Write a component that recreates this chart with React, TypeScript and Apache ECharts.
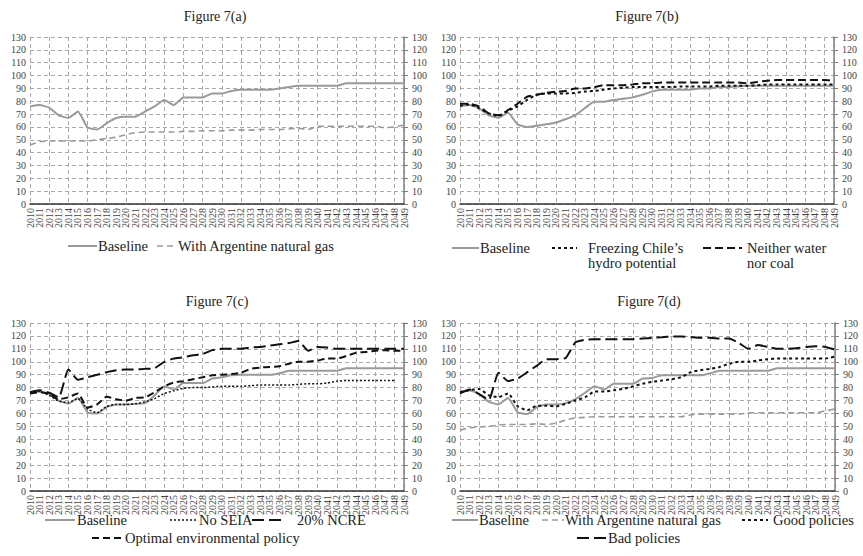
import React, { useEffect, useRef } from "react";
import * as echarts from "echarts";

const years = [
  "2010", "2011", "2012", "2013", "2014", "2015", "2016", "2017", "2018", "2019",
  "2020", "2021", "2022", "2023", "2024", "2025", "2026", "2027", "2028", "2029",
  "2030", "2031", "2032", "2033", "2034", "2035", "2036", "2037", "2038", "2039",
  "2040", "2041", "2042", "2043", "2044", "2045", "2046", "2047", "2048", "2049",
];

// Figure 7(a)
const baselineA = [
  76, 77, 75, 69, 67, 72, 59.5, 58, 63, 67,
  68, 68, 72, 76, 81, 77, 83, 83, 83, 86,
  86, 88, 89, 89, 89, 89, 90, 91, 92, 92,
  92, 92, 92, 94, 94, 94, 94, 94, 94, 94,
];
const gasA = [
  46, 48.5, 49, 49, 49, 49, 49, 50, 51, 52,
  54, 55.5, 56, 56, 56, 56, 56.5, 56.5, 57, 57,
  57, 57.5, 57.5, 57.5, 58, 58, 58, 58.5, 59, 58,
  60.5, 60.5, 60.5, 60.5, 60.5, 60.5, 60.5, 59.5, 60, 61.5,
];

// Figure 7(b)
const baselineB = [
  76, 77, 74.5, 69, 67, 71, 62, 60, 61, 62,
  63.5, 66, 69, 74.5, 79.5, 79.5, 81, 82, 83, 85,
  87.5, 89, 89, 89, 89, 90, 90, 91, 91, 91.5,
  92, 92, 92, 92, 92, 92, 92, 92, 92, 92,
];
const freezingB = [
  76.5, 77.5, 74.5, 70.5, 68.5, 72.5, 76, 81, 85, 86,
  86, 86, 86.5, 87.5, 88, 89, 90, 90.5, 91, 91,
  91, 91, 91, 91.5, 91.5, 91.5, 91.5, 92, 92, 92,
  92, 92.5, 93, 93, 93, 93, 93, 93, 93, 93,
];
const neitherB = [
  78, 78, 76, 70.5, 69, 73, 78, 83.5, 85, 86.5,
  87.5, 88, 90, 90, 91, 92.5, 92.5, 92.5, 93, 94,
  94, 94.5, 94.5, 94.5, 94.5, 94.5, 94.5, 94.5, 94.5, 94.5,
  94, 95, 96, 96.5, 96.5, 96.5, 96.5, 96.5, 96.5, 96,
];

// Figure 7(c)
const baselineC = [
  76, 77, 75, 70, 67.5, 72, 61, 60, 65, 67,
  67, 67.5, 68, 74, 81, 78.5, 83.5, 83.5, 83.5, 87,
  88, 89.5, 90, 90, 90, 90, 91, 93, 93, 93,
  93, 93, 93, 95, 95, 95, 95, 95, 95, 95,
];
const noSeiaC = [
  76, 77, 74, 69.5, 68.5, 71.5, 63.5, 60.5, 65.5, 67,
  67, 67.5, 69, 71.5, 75.5, 77.5, 79.5, 80, 80, 80.5,
  81, 81, 81, 81.5, 82, 82, 82, 82, 82.5, 83,
  83, 83.5, 85, 85.5, 85.5, 85.5, 85.5, 85.5, 85.5, null,
];
const ncreC = [
  76.5, 78, 76, 72.5, 94, 86, 88, 90, 92, 93.5,
  94, 94, 94.5, 95, 100, 102.5, 103.5, 105, 106, 109,
  110, 110, 110, 111, 111.5, 112.5, 113.5, 114.5, 116, 108.5,
  111.5, 111, 110, 110, 110, 110, 110, 110, 110, 110,
];
const optimalC = [
  75.5, 76.5, 75, 71, 72.5, 75.5, 64.5, 67, 73, 71,
  70, 72, 72.5, 76.5, 81, 84, 85, 86.5, 88, 89.5,
  90, 90.5, 91.5, 94.5, 95.5, 96, 96.5, 98.5, 100, 100,
  101, 102.5, 102.5, 104.5, 107, 107.5, 108.5, 109, 108.5, 108.5,
];

// Figure 7(d)
const baselineD = [
  77, 78, 75, 69, 67, 72, 61, 59.5, 65, 67,
  67, 68, 71, 76, 81, 78.5, 83, 83, 83, 87,
  87.5, 89.5, 89.5, 89.5, 89.5, 89.5, 91, 93, 93, 93,
  93, 93, 93, 95, 95, 95, 95, 95, 95, 95,
];
const gasD = [
  47, 49, 49.5, 50, 51, 51.5, 51.5, 51.5, 52, 51.5,
  52.5, 55, 56.5, 57, 57.5, 57.5, 57.5, 57.5, 57.5, 57.5,
  57.5, 57.5, 57.5, 57.5, 59, 59.5, 59.5, 59.5, 59.5, 59.5,
  60.5, 60.5, 60.5, 60.5, 60.5, 60.5, 60.5, 60.5, 62, 63.5,
];
const goodD = [
  76.5, 78, 79, 74, 72.5, 75.5, 65.5, 62.5, 66, 66,
  65.5, 67.5, 70, 72.5, 77, 77, 78, 79, 81, 83,
  84.5, 85.5, 86.5, 88, 92, 93.5, 94.5, 96, 98.5, 100,
  100, 101, 102, 102.5, 102.5, 102.5, 102.5, 102.5, 102.5, 104,
];
const badD = [
  75.5, 78.5, 75, 70.5, 91.5, 85, 87, 92, 97, 102,
  102, 103, 115, 117, 117.5, 117.5, 117.5, 117.5, 117.5, 118,
  118.5, 119, 119.5, 119.5, 119, 118.5, 118.5, 118, 118, 114.5,
  110, 113, 111.5, 110, 110, 110.5, 111.5, 112, 111.5, 109.5,
];

const titles = ["Figure 7(a)", "Figure 7(b)", "Figure 7(c)", "Figure 7(d)"];

const SERIF = "Liberation Serif";
const GRAY = "#9a9a9a";
const BLACK = "#111";

const grids = [
  { left: 30, top: 37, width: 374, height: 167 },
  { left: 460, top: 37, width: 374, height: 167 },
  { left: 30, top: 323, width: 374, height: 168 },
  { left: 460, top: 323, width: 375, height: 168 },
];

type SeriesDef = { name: string; data: (number | null)[]; color: string; width: number; dash: any };

const panels: SeriesDef[][] = [
  [
    { name: "Baseline", data: baselineA, color: GRAY, width: 2, dash: "solid" },
    { name: "With Argentine natural gas", data: gasA, color: GRAY, width: 1.6, dash: [6, 4] },
  ],
  [
    { name: "Baseline", data: baselineB, color: GRAY, width: 2, dash: "solid" },
    { name: "Freezing Chile’s hydro potential", data: freezingB, color: BLACK, width: 2, dash: [3, 3] },
    { name: "Neither water nor coal", data: neitherB, color: BLACK, width: 2, dash: [8, 4] },
  ],
  [
    { name: "Baseline", data: baselineC, color: GRAY, width: 2, dash: "solid" },
    { name: "No SEIA", data: noSeiaC, color: BLACK, width: 1.5, dash: [2, 2] },
    { name: "20% NCRE", data: ncreC, color: BLACK, width: 2, dash: [12, 5] },
    { name: "Optimal environmental policy", data: optimalC, color: BLACK, width: 2, dash: [7, 4] },
  ],
  [
    { name: "Baseline", data: baselineD, color: GRAY, width: 2, dash: "solid" },
    { name: "With Argentine natural gas", data: gasD, color: GRAY, width: 1.6, dash: [6, 4] },
    { name: "Good policies", data: goodD, color: BLACK, width: 2, dash: [3, 3] },
    { name: "Bad policies", data: badD, color: BLACK, width: 2, dash: [12, 5] },
  ],
];

function legLine(x1: number, x2: number, y: number, color: string, width: number, dash: any) {
  return {
    type: "line",
    shape: { x1, y1: y, x2, y2: y },
    style: { stroke: color, lineWidth: width, lineDash: dash === "solid" ? null : dash },
  };
}
function legText(x: number, y: number, text: string) {
  return {
    type: "text",
    x,
    y,
    style: {
      text,
      fontSize: 14.5,
      fontFamily: SERIF,
      fill: "#222",
      textVerticalAlign: "middle",
      lineHeight: 15,
    },
  };
}

export default function App() {
  const ref = useRef<HTMLDivElement>(null);
  useEffect(() => {
    document.body.style.margin = "0";
    if (!ref.current) return;
    const chart = echarts.init(ref.current, null, { renderer: "svg" });

    const xAxis: any[] = [];
    const yAxis: any[] = [];
    const series: any[] = [];
    grids.forEach((g, i) => {
      xAxis.push({
        type: "category",
        gridIndex: i,
        data: years,
        boundaryGap: false,
        axisLine: { lineStyle: { color: "#333", width: 1.5 } },
        axisTick: { show: false },
        axisLabel: { rotate: 90, interval: 0, fontSize: 10, color: "#444", fontFamily: SERIF, margin: 4 },
        splitLine: { show: true, interval: 1, lineStyle: { color: "#a8a8a8", type: [4, 3], width: 1 } },
      });
      yAxis.push({
        type: "value",
        gridIndex: i,
        min: 0,
        max: 130,
        interval: 10,
        axisLine: { show: false },
        axisTick: { show: false },
        axisLabel: { fontSize: 10, color: "#444", fontFamily: SERIF, margin: 4 },
        splitLine: { show: true, lineStyle: { color: "#a8a8a8", type: [4, 3], width: 1 } },
      });
      yAxis.push({
        type: "value",
        gridIndex: i,
        position: "right",
        min: 0,
        max: 130,
        interval: 10,
        axisLine: { show: true, lineStyle: { color: "#808080", width: 1.5 } },
        axisTick: { show: true, length: 4, lineStyle: { color: "#808080", width: 1 } },
        axisLabel: { fontSize: 10, color: "#444", fontFamily: SERIF, margin: 8 },
        splitLine: { show: false },
      });
      panels[i].forEach((s) => {
        series.push({
          type: "line",
          name: s.name,
          xAxisIndex: i,
          yAxisIndex: 2 * i,
          data: s.data,
          showSymbol: false,
          symbol: "none",
          smooth: 0.15,
          connectNulls: false,
          lineStyle: { color: s.color, width: s.width, type: s.dash },
          z: s.color === GRAY ? 2 : 3,
        });
      });
    });

    const titleGraphics = [
      { x: 215, y: 16 },
      { x: 647, y: 16 },
      { x: 217, y: 301 },
      { x: 649, y: 301 },
    ].map((p, i) => ({
      type: "text",
      x: p.x,
      y: p.y,
      style: {
        text: titles[i],
        fontSize: 14,
        fontFamily: SERIF,
        fill: "#222",
        textAlign: "center",
        textVerticalAlign: "middle",
      },
    }));

    const legend = [
      // (a)
      legLine(68, 97, 246, GRAY, 2, "solid"),
      legText(98, 246, "Baseline"),
      legLine(157, 177, 246, GRAY, 1.6, [6, 4]),
      legText(178, 246, "With Argentine natural gas"),
      // (b)
      legLine(452, 479, 248, GRAY, 2, "solid"),
      legText(480, 248, "Baseline"),
      legLine(552, 577, 248, BLACK, 2, [3, 3]),
      legText(588, 255.5, "Freezing Chile’s\nhydro potential"),
      legLine(703, 742, 248, BLACK, 2, [8, 4]),
      legText(747, 255.5, "Neither water\nnor coal"),
      // (c)
      legLine(45, 75, 520, GRAY, 2, "solid"),
      legText(77, 520, "Baseline"),
      legLine(170, 198, 520, BLACK, 1.5, [2, 2]),
      legText(199, 520, "No SEIA"),
      legLine(252, 285, 520, BLACK, 2, [12, 5]),
      legText(297, 520, "20% NCRE"),
      legLine(92, 123, 538, BLACK, 2, [7, 4]),
      legText(125, 538, "Optimal environmental policy"),
      // (d)
      legLine(452, 478, 520, GRAY, 2, "solid"),
      legText(479, 520, "Baseline"),
      legLine(542, 564, 520, GRAY, 1.6, [6, 4]),
      legText(565, 520, "With Argentine natural gas"),
      legLine(742, 768, 520, BLACK, 2, [3, 3]),
      legText(773, 520, "Good policies"),
      legLine(577, 607, 538, BLACK, 2, [12, 5]),
      legText(608, 538, "Bad policies"),
    ];

    chart.setOption({
      animation: false,
      backgroundColor: "#fff",
      grid: grids,
      xAxis,
      yAxis,
      series,
      graphic: [...titleGraphics, ...legend],
    });
    return () => chart.dispose();
  }, []);
  return <div ref={ref} style={{ width: 863, height: 556 }} />;
}
